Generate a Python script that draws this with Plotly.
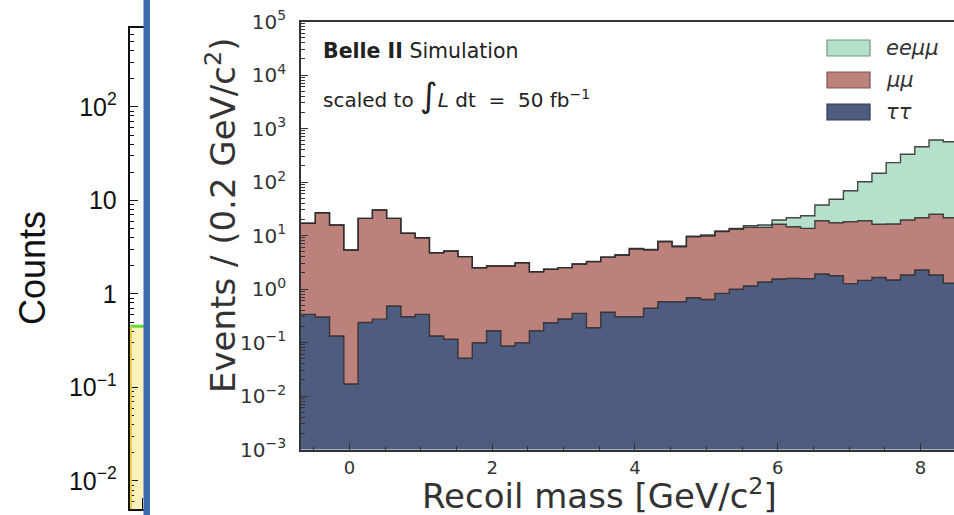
import plotly.graph_objects as go

# Histogram binning (GeV/c^2)
bin_lo = -0.68
bin_width = 0.2

# Events per bin for each process
tautau = [0.336, 0.30, 0.132, 0.0168, 0.237, 0.273, 0.481, 0.303, 0.336, 0.132,
          0.115, 0.0507, 0.099, 0.166, 0.086, 0.099, 0.166, 0.234, 0.275, 0.351,
          0.189, 0.367, 0.303, 0.303, 0.436, 0.579, 0.579, 0.685, 0.637, 0.83,
          0.99, 1.14, 1.35, 1.54, 1.58, 1.56, 1.91, 1.77, 1.26, 1.45,
          1.64, 1.47, 1.83, 2.26, 1.83, 1.28]
mumu = [16.6, 26.4, 15.6, 5.34, 20.7, 29.7, 20.4, 10.7, 8.76, 4.64,
        5.02, 3.97, 2.40, 2.52, 2.60, 3.0, 1.93, 2.10, 2.23, 2.58,
        3.05, 3.54, 3.97, 5.30, 4.92, 7.08, 5.60, 8.8, 9.16, 10.97,
        12.1, 13.06, 12.85, 14.66, 13.02, 12.04, 17.0, 15.5, 16.8, 17.45,
        14.56, 14.9, 17.7, 19.2, 23.1, 20.2]
eemumu = [0, 0, 0, 0, 0, 0, 0, 0, 0, 0,
          0, 0, 0, 0, 0, 0, 0, 0, 0, 0,
          0.05, 0.08, 0.1, 0.1, 0.15, 0.2, 0.2, 0.25, 0.4, 0.3,
          0.5, 1.0, 1.5, 3.3, 6.9, 9.8, 18.3, 30.2, 50.7, 82,
          130, 214, 310, 435, 585, 545]

# Partially shown neighbouring panel
left_counts = [0.45]

y_tick_exp = [-3, -2, -1, 0, 1, 2, 3, 4, 5]
x_tick_vals = [0, 2, 4, 6, 8]
left_tick_exp = [-2, -1, 0, 1, 2]
left_tick_text = ["10<sup>\u22122</sup>", "10<sup>\u22121</sup>", "1", "10", "10<sup>2</sup>"]

W, H = 954, 515


def px(x):
    return x / W


def py(y):
    return 1 - y / H


def sup(e):
    return "10<sup>" + (str(e) if e >= 0 else "\u2212" + str(-e)) + "</sup>"


n = len(tautau)
edges = [bin_lo + bin_width * k for k in range(n + 1)]

c1 = list(tautau)
c2 = [a + b for a, b in zip(c1, mumu)]
c3 = [a + b for a, b in zip(c2, eemumu)]

col_tt = "#4e5c80"
col_mm = "#bc817b"
col_ee = "#b5e0c9"
edge_col = "rgba(40,40,40,0.85)"

fig = go.Figure()


def step(vals):
    return vals + [vals[-1]]


fig.add_trace(go.Scatter(x=edges, y=[1e-5] * (n + 1), mode="lines",
                         line=dict(width=0), showlegend=False, hoverinfo="skip"))
for vals, col, name in [(c1, col_tt, "ττ"), (c2, col_mm, "μμ"), (c3, col_ee, "eeμμ")]:
    fig.add_trace(go.Scatter(x=edges, y=step(vals), mode="lines", line_shape="hv",
                             line=dict(color=edge_col, width=1.4), fill="tonexty",
                             fillcolor=col, name=name, showlegend=False))

# neighbouring panel on the left
fig.add_trace(go.Scatter(x=[0, 1], y=[1e-4, 1e-4], mode="lines", line=dict(width=0),
                         xaxis="x2", yaxis="y2", showlegend=False, hoverinfo="skip"))
fig.add_trace(go.Scatter(x=[0, 1], y=[left_counts[0]] * 2, mode="lines",
                         line=dict(color="#62dc3c", width=3), fill="tonexty",
                         fillcolor="#fcf1bd", xaxis="x2", yaxis="y2", showlegend=False))

minor_y = [m * 10 ** e for e in range(-3, 5) for m in range(2, 10)]
minor_x = [v / 2 for v in range(-1, 18) if v % 4 != 0]
minor_left = [m * 10 ** e for e in range(-3, 3) for m in range(2, 10)]

fig.update_layout(
    width=W, height=H,
    margin=dict(l=0, r=0, t=0, b=0, autoexpand=False),
    paper_bgcolor="white", plot_bgcolor="white",
    showlegend=False,
    xaxis=dict(domain=[px(301), 1], range=[bin_lo, 8.47], anchor="y", automargin=False,
               tickvals=x_tick_vals, ticks="inside", ticklen=7, tickwidth=1.2,
               tickcolor="#333", showgrid=False, zeroline=False,
               showline=True, linecolor="#333", linewidth=1.6, mirror=True,
               tickfont=dict(family="DejaVu Sans", size=18, color="#333333"),
               ticklabelstandoff=1,
               minor=dict(tickvals=minor_x, ticks="inside", ticklen=4,
                          tickcolor="#333", tickwidth=1, showgrid=False)),
    yaxis=dict(domain=[py(449.5), py(21.5)], type="log", range=[-3, 5], anchor="x",
               automargin=False,
               tickvals=[10 ** e for e in y_tick_exp],
               ticktext=[sup(e) for e in y_tick_exp],
               ticks="inside", ticklen=7, tickwidth=1.2, tickcolor="#333",
               showgrid=False, zeroline=False, showline=True, linecolor="#333",
               linewidth=1.6, tickfont=dict(family="DejaVu Sans", size=20, color="#333333"),
               ticklabelstandoff=9,
               minor=dict(tickvals=minor_y, ticks="inside", ticklen=4,
                          tickcolor="#333", tickwidth=1, showgrid=False)),
    xaxis2=dict(domain=[px(129.5), px(147)], range=[0, 1], anchor="y2", automargin=False,
                tickvals=[0.72], ticktext=[""], ticks="inside", ticklen=11,
                tickcolor="#111", showgrid=False, zeroline=False,
                showline=True, linecolor="#111", linewidth=1.6, mirror=True),
    yaxis2=dict(domain=[py(509), py(28)], type="log", range=[-2.3, 2.843], anchor="x2",
                automargin=False,
                tickvals=[10 ** e for e in left_tick_exp], ticktext=left_tick_text,
                ticks="inside", ticklen=9, tickwidth=1.3, tickcolor="#111",
                showgrid=False, zeroline=False, showline=True, linecolor="#111",
                linewidth=1.6,
                tickfont=dict(family="Liberation Sans", size=25, color="#111"),
                ticklabelstandoff=6,
                minor=dict(tickvals=minor_left, ticks="inside", ticklen=5,
                           tickcolor="#111", tickwidth=1, showgrid=False)),
)

shapes = []
# left edge of the yellow region
shapes.append(dict(type="line", xref="x2", yref="y2", x0=0.08, x1=0.08,
                   y0=0.004, y1=left_counts[0], line=dict(color="#e6cf45", width=2)))
# blue divider bar
shapes.append(dict(type="rect", xref="paper", yref="paper", x0=px(143.5), x1=px(150),
                   y0=0, y1=1, fillcolor="#3d6bb1", line=dict(width=0), layer="above"))

# legend swatches
legend_items = [("<i>eeμμ</i>", col_ee, "#6f9a83", 40, 56),
                ("<i>μμ</i>", col_mm, "#7d5450", 72, 88),
                ("<i>ττ</i>", col_tt, "#2f3a55", 104, 120)]
annotations = []
for label, fc, lc, y0, y1 in legend_items:
    shapes.append(dict(type="rect", xref="paper", yref="paper", x0=px(827), x1=px(870),
                       y0=py(y1), y1=py(y0), fillcolor=fc, line=dict(color=lc, width=1.2)))
    annotations.append(dict(xref="paper", yref="paper", x=px(884), y=py((y0 + y1) / 2),
                            text=label, showarrow=False, xanchor="left", yanchor="middle",
                            font=dict(family="DejaVu Sans", size=21, color="#333")))

annotations += [
    dict(xref="paper", yref="paper", x=px(321), y=py(51),
         text="<b>Belle II</b> Simulation", showarrow=False, xanchor="left",
         yanchor="middle", font=dict(family="DejaVu Sans", size=20.5, color="#222")),
    dict(xref="paper", yref="paper", x=px(321), y=py(95),
         text="scaled to <span style='font-size:34px'>\u222b</span><i>L</i> dt  =  50 fb<sup>\u22121</sup>",
         showarrow=False, xanchor="left", yanchor="middle",
         font=dict(family="DejaVu Sans", size=20, color="#222")),
    dict(xref="paper", yref="paper", x=px(221), y=py(216),
         text="Events / (0.2 GeV/c<sup>2</sup>)", textangle=-90, showarrow=False,
         xanchor="center", yanchor="middle",
         font=dict(family="DejaVu Sans", size=34, color="#333")),
    dict(xref="paper", yref="paper", x=px(599), y=py(494),
         text="Recoil mass [GeV/c<sup>2</sup>]", showarrow=False,
         xanchor="center", yanchor="middle",
         font=dict(family="DejaVu Sans", size=34, color="#333")),
    dict(xref="paper", yref="paper", x=px(32), y=py(268),
         text="Counts", textangle=-90, showarrow=False,
         xanchor="center", yanchor="middle",
         font=dict(family="Liberation Sans", size=36, color="#111")),
]

fig.update_layout(shapes=shapes, annotations=annotations)
fig.write_html("out.html")
